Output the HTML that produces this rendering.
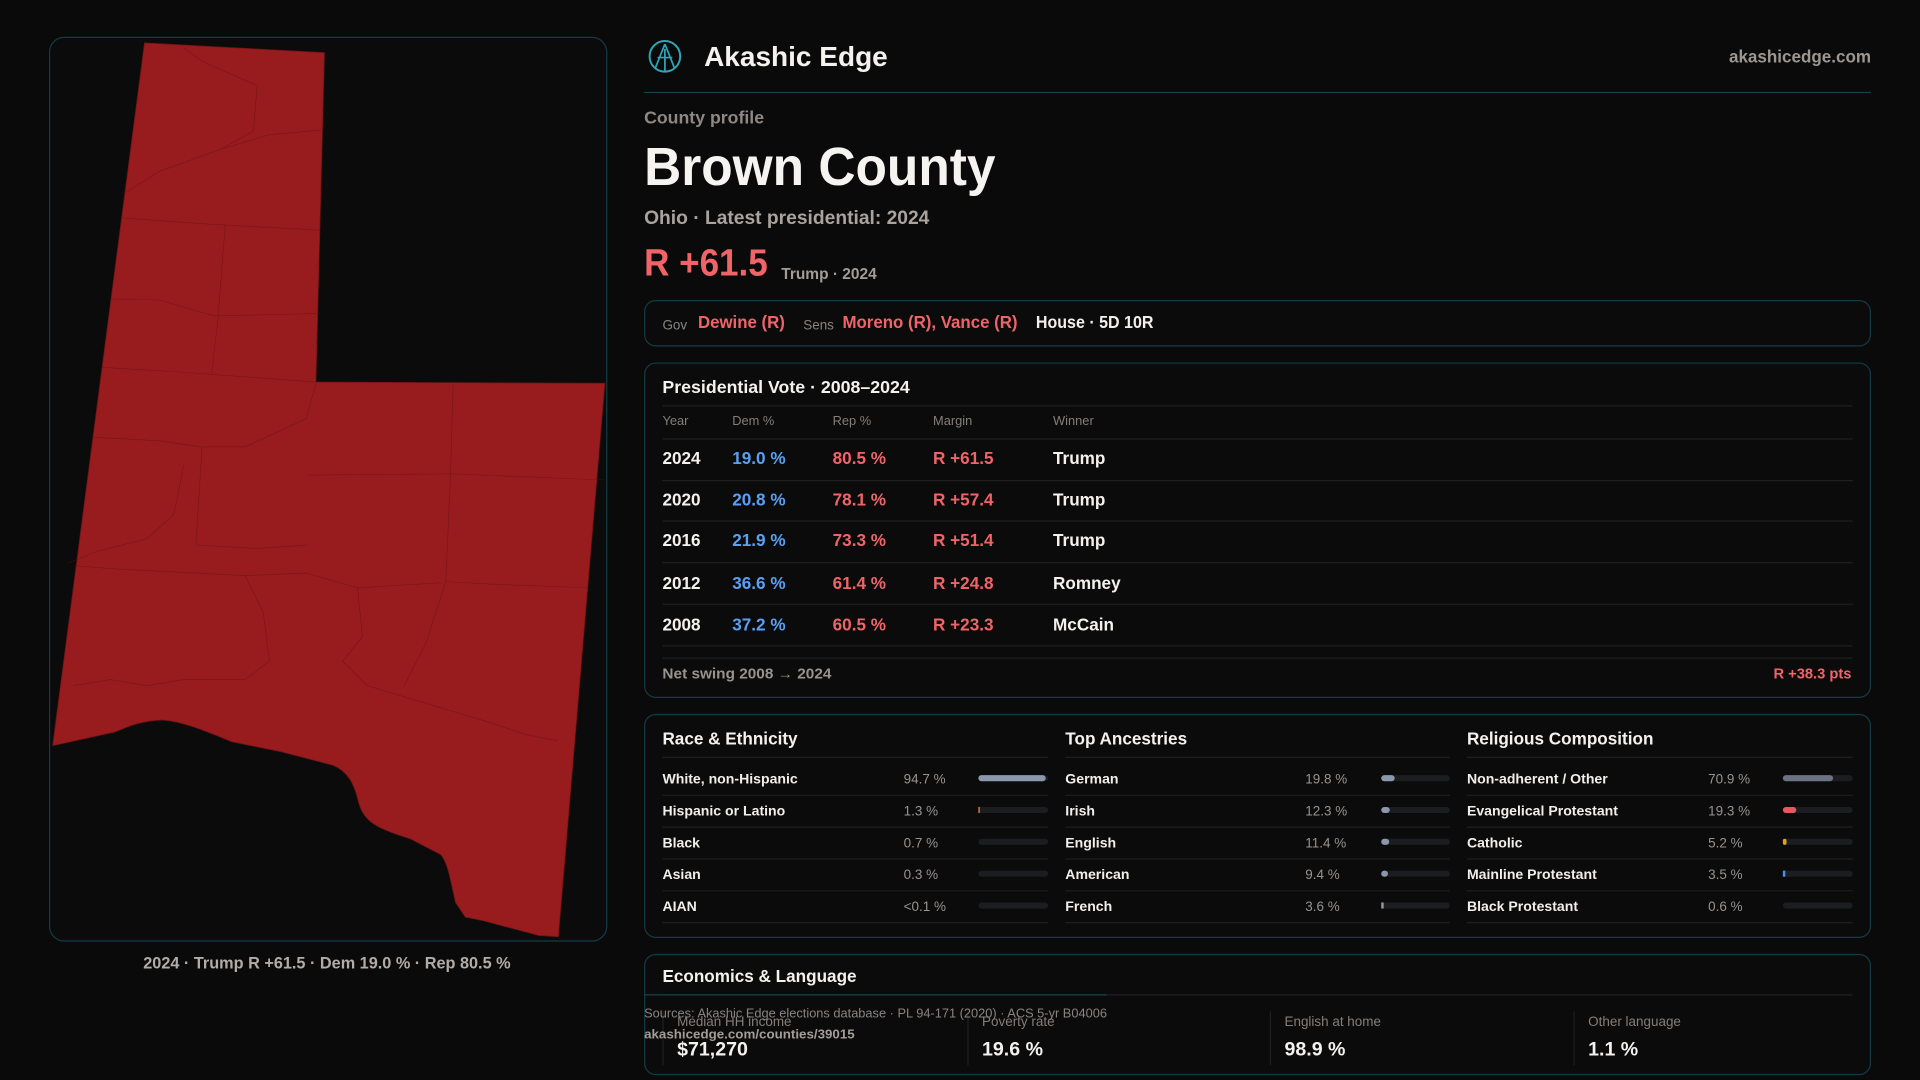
<!DOCTYPE html>
<html><head><meta charset="utf-8"><style>
html,body{margin:0;padding:0;background:#0a0a0b;}
svg{display:block;}
text{font-family:"Liberation Sans",sans-serif;}
</style></head><body>
<svg width="1920" height="1080" viewBox="0 0 1568 882" xmlns="http://www.w3.org/2000/svg">
<rect x="0" y="0" width="1568" height="882" fill="#0a0a0b"/>
<rect x="40.5" y="30.5" width="455" height="738" rx="12" fill="#0b0b0c" stroke="#143a44" stroke-width="1"/>
<path fill="#981b1e" stroke="#6e1416" stroke-width="0.6" d="M118,35 L265,43 L258,312 L494,313 L456,765 L440,764 L395,752 L380,749 L372,737 C368,720 366,705 360,698 L335,685 C305,676 296,670 292,652 C289,640 284,630 272,625 L230,614 L190,606 C170,598 150,589 132,588 C110,589 100,596 93,598 L43,609 Z"/>
<g fill="none" stroke="#5e1214" stroke-width="0.5" opacity="0.55">
<polyline points="103,157 130,140 180,122 207,107 210,70 165,50 150,39"/>
<polyline points="180,122 220,110 264,106"/>
<polyline points="100,178 170,183 261,188"/>
<polyline points="184,183 178,260 173,305"/>
<polyline points="90,244 130,245 175,258 261,256"/>
<polyline points="83,300 150,304 258,312"/>
<polyline points="75,357 130,360 165,365 200,365 250,342 258,313"/>
<polyline points="165,365 160,445 210,448 252,445"/>
<polyline points="252,388 370,387 494,392"/>
<polyline points="370,313 368,387 364,475 400,477 480,480"/>
<polyline points="60,462 100,465 200,470 250,468 292,480 360,476"/>
<polyline points="292,480 296,520 280,540 300,560 400,590 430,600 456,605"/>
<polyline points="364,475 348,525 330,560"/>
<polyline points="150,380 142,420 120,440 80,450 55,460"/>
<polyline points="200,470 215,500 220,540 200,555 150,555 120,560 90,555 60,560"/>
</g>
<text x="267" y="791" fill="#b3aca6" font-size="13.5" font-weight="bold" text-anchor="middle" textLength="300" lengthAdjust="spacingAndGlyphs">2024 · Trump R +61.5 · Dem 19.0 % · Rep 80.5 %</text>

<circle cx="543" cy="46" r="12.5" fill="none" stroke="#2fa6b8" stroke-width="1.6"/>
<path d="M543 36 L535 56 M543 36 L551 56 M537 47 L549 47 M543 40 L543 58" stroke="#2fa6b8" stroke-width="1.4" fill="none"/>
<text x="575" y="54" fill="#f4f2ef" font-size="23" font-weight="bold" textLength="150" lengthAdjust="spacingAndGlyphs">Akashic Edge</text>
<text x="1528" y="51" fill="#9e9690" font-size="14" font-weight="bold" text-anchor="end" textLength="116" lengthAdjust="spacingAndGlyphs">akashicedge.com</text>
<line x1="526" y1="75.5" x2="1528" y2="75.5" stroke="#17424d" stroke-width="1"/>
<text x="526" y="101" fill="#8f8882" font-size="14" font-weight="bold" textLength="98" lengthAdjust="spacingAndGlyphs">County profile</text>
<text x="526" y="151" fill="#f6f4f1" font-size="44" font-weight="bold" textLength="287" lengthAdjust="spacingAndGlyphs">Brown County</text>
<text x="526" y="183" fill="#aaa39d" font-size="16" font-weight="bold" textLength="233" lengthAdjust="spacingAndGlyphs">Ohio · Latest presidential: 2024</text>
<text x="526" y="225" fill="#f06468" font-size="31" font-weight="bold" textLength="101" lengthAdjust="spacingAndGlyphs">R +61.5</text>
<text x="638" y="228" fill="#a49d97" font-size="12.5" font-weight="bold" textLength="78" lengthAdjust="spacingAndGlyphs">Trump · 2024</text>

<rect x="526.5" y="245.5" width="1001" height="37" rx="9" fill="#0b0b0c" stroke="#143a44"/>
<text x="541" y="269" fill="#8a847f" font-size="11">Gov</text>
<text x="570" y="268" fill="#f06468" font-size="14" font-weight="bold" textLength="71" lengthAdjust="spacingAndGlyphs">Dewine (R)</text>
<text x="656" y="269" fill="#8a847f" font-size="11">Sens</text>
<text x="688" y="268" fill="#f06468" font-size="14" font-weight="bold" textLength="143" lengthAdjust="spacingAndGlyphs">Moreno (R), Vance (R)</text>
<text x="846" y="268" fill="#f1efec" font-size="14" font-weight="bold" textLength="96" lengthAdjust="spacingAndGlyphs">House · 5D 10R</text>

<rect x="526.5" y="296.5" width="1001" height="273" rx="9" fill="#0b0b0c" stroke="#143a44"/>
<text x="541" y="321" fill="#f4f2ef" font-size="14" font-weight="bold" textLength="202" lengthAdjust="spacingAndGlyphs">Presidential Vote · 2008–2024</text>
<line x1="541" y1="331.5" x2="1513" y2="331.5" stroke="#1d1f21"/>
<g fill="#857e79" font-size="10.5">
<text x="541" y="347">Year</text><text x="598" y="347">Dem %</text><text x="680" y="347">Rep %</text><text x="762" y="347">Margin</text><text x="860" y="347">Winner</text>
</g>
<g stroke="#1d1f21"><line x1="541" y1="358.5" x2="1513" y2="358.5"/><line x1="541" y1="392.5" x2="1513" y2="392.5"/><line x1="541" y1="425.5" x2="1513" y2="425.5"/><line x1="541" y1="459.5" x2="1513" y2="459.5"/><line x1="541" y1="493.5" x2="1513" y2="493.5"/><line x1="541" y1="527.5" x2="1513" y2="527.5"/><line x1="541" y1="537.5" x2="1513" y2="537.5"/></g>
<g font-size="14" font-weight="bold">
<text x="541" y="379" fill="#f4f2ef">2024</text><text x="598" y="379" fill="#5aa0f2">19.0 %</text><text x="680" y="379" fill="#f06468">80.5 %</text><text x="762" y="379" fill="#f06468">R +61.5</text><text x="860" y="379" fill="#f4f2ef">Trump</text>
<text x="541" y="413" fill="#f4f2ef">2020</text><text x="598" y="413" fill="#5aa0f2">20.8 %</text><text x="680" y="413" fill="#f06468">78.1 %</text><text x="762" y="413" fill="#f06468">R +57.4</text><text x="860" y="413" fill="#f4f2ef">Trump</text>
<text x="541" y="446" fill="#f4f2ef">2016</text><text x="598" y="446" fill="#5aa0f2">21.9 %</text><text x="680" y="446" fill="#f06468">73.3 %</text><text x="762" y="446" fill="#f06468">R +51.4</text><text x="860" y="446" fill="#f4f2ef">Trump</text>
<text x="541" y="481" fill="#f4f2ef">2012</text><text x="598" y="481" fill="#5aa0f2">36.6 %</text><text x="680" y="481" fill="#f06468">61.4 %</text><text x="762" y="481" fill="#f06468">R +24.8</text><text x="860" y="481" fill="#f4f2ef">Romney</text>
<text x="541" y="515" fill="#f4f2ef">2008</text><text x="598" y="515" fill="#5aa0f2">37.2 %</text><text x="680" y="515" fill="#f06468">60.5 %</text><text x="762" y="515" fill="#f06468">R +23.3</text><text x="860" y="515" fill="#f4f2ef">McCain</text>
</g>
<text x="541" y="554" fill="#9a938d" font-size="12" font-weight="bold" textLength="138" lengthAdjust="spacingAndGlyphs">Net swing 2008 → 2024</text>
<text x="1512" y="554" fill="#f06468" font-size="12" font-weight="bold" text-anchor="end">R +38.3 pts</text>

<rect x="526.5" y="583.5" width="1001" height="182" rx="9" fill="#0b0b0c" stroke="#143a44"/>
<g font-size="14" font-weight="bold" fill="#f4f2ef">
<text x="541" y="608">Race &amp; Ethnicity</text><text x="870" y="608">Top Ancestries</text><text x="1198" y="608">Religious Composition</text>
</g>
<g stroke="#1d1f21">
<line x1="541" y1="618.5" x2="856" y2="618.5"/><line x1="870" y1="618.5" x2="1184" y2="618.5"/><line x1="1198" y1="618.5" x2="1513" y2="618.5"/>
<line x1="541" y1="649.5" x2="856" y2="649.5"/><line x1="870" y1="649.5" x2="1184" y2="649.5"/><line x1="1198" y1="649.5" x2="1513" y2="649.5"/>
<line x1="541" y1="675.5" x2="856" y2="675.5"/><line x1="870" y1="675.5" x2="1184" y2="675.5"/><line x1="1198" y1="675.5" x2="1513" y2="675.5"/>
<line x1="541" y1="701.5" x2="856" y2="701.5"/><line x1="870" y1="701.5" x2="1184" y2="701.5"/><line x1="1198" y1="701.5" x2="1513" y2="701.5"/>
<line x1="541" y1="727.5" x2="856" y2="727.5"/><line x1="870" y1="727.5" x2="1184" y2="727.5"/><line x1="1198" y1="727.5" x2="1513" y2="727.5"/>
<line x1="541" y1="753.5" x2="856" y2="753.5"/><line x1="870" y1="753.5" x2="1184" y2="753.5"/><line x1="1198" y1="753.5" x2="1513" y2="753.5"/>
</g>
<g fill="#1c1d20">
<rect x="799" y="633" width="57" height="5" rx="2.5"/><rect x="799" y="659" width="57" height="5" rx="2.5"/><rect x="799" y="685" width="57" height="5" rx="2.5"/><rect x="799" y="711" width="57" height="5" rx="2.5"/><rect x="799" y="737" width="57" height="5" rx="2.5"/>
<rect x="1128" y="633" width="56" height="5" rx="2.5"/><rect x="1128" y="659" width="56" height="5" rx="2.5"/><rect x="1128" y="685" width="56" height="5" rx="2.5"/><rect x="1128" y="711" width="56" height="5" rx="2.5"/><rect x="1128" y="737" width="56" height="5" rx="2.5"/>
<rect x="1456" y="633" width="57" height="5" rx="2.5"/><rect x="1456" y="659" width="57" height="5" rx="2.5"/><rect x="1456" y="685" width="57" height="5" rx="2.5"/><rect x="1456" y="711" width="57" height="5" rx="2.5"/><rect x="1456" y="737" width="57" height="5" rx="2.5"/>
</g>
<rect x="799" y="633" width="55" height="5" rx="2.5" fill="#8b97aa"/>
<rect x="799" y="659" width="1.2" height="5" fill="#d97a3a"/>
<rect x="1128" y="633" width="11" height="5" rx="2.5" fill="#8b97aa"/>
<rect x="1128" y="659" width="7" height="5" rx="2.5" fill="#8b97aa"/>
<rect x="1128" y="685" width="6.5" height="5" rx="2.5" fill="#8b97aa"/>
<rect x="1128" y="711" width="5.5" height="5" rx="2.5" fill="#8b97aa"/>
<rect x="1128" y="737" width="2" height="5" fill="#8b97aa"/>
<rect x="1456" y="633" width="41" height="5" rx="2.5" fill="#6b7280"/>
<rect x="1456" y="659" width="11" height="5" rx="2.5" fill="#e05a5e"/>
<rect x="1456" y="685" width="3" height="5" rx="1.5" fill="#e0a020"/>
<rect x="1456" y="711" width="2" height="5" fill="#4a8ef0"/>
<g font-size="11.5" font-weight="bold" fill="#f1efec">
<text x="541" y="640">White, non-Hispanic</text><text x="541" y="666">Hispanic or Latino</text><text x="541" y="692">Black</text><text x="541" y="718">Asian</text><text x="541" y="744">AIAN</text>
<text x="870" y="640">German</text><text x="870" y="666">Irish</text><text x="870" y="692">English</text><text x="870" y="718">American</text><text x="870" y="744">French</text>
<text x="1198" y="640">Non-adherent / Other</text><text x="1198" y="666">Evangelical Protestant</text><text x="1198" y="692">Catholic</text><text x="1198" y="718">Mainline Protestant</text><text x="1198" y="744">Black Protestant</text>
</g>
<g font-size="11" fill="#9a938d">
<text x="738" y="640">94.7 %</text><text x="738" y="666">1.3 %</text><text x="738" y="692">0.7 %</text><text x="738" y="718">0.3 %</text><text x="738" y="744">&lt;0.1 %</text>
<text x="1066" y="640">19.8 %</text><text x="1066" y="666">12.3 %</text><text x="1066" y="692">11.4 %</text><text x="1066" y="718">9.4 %</text><text x="1066" y="744">3.6 %</text>
<text x="1395" y="640">70.9 %</text><text x="1395" y="666">19.3 %</text><text x="1395" y="692">5.2 %</text><text x="1395" y="718">3.5 %</text><text x="1395" y="744">0.6 %</text>
</g>

<rect x="526.5" y="779.5" width="1001" height="98" rx="9" fill="#0b0b0c" stroke="#143a44"/>
<text x="541" y="802" fill="#f4f2ef" font-size="14" font-weight="bold">Economics &amp; Language</text>
<line x1="541" y1="812.5" x2="1513" y2="812.5" stroke="#1d1f21"/>
<line x1="526" y1="812.5" x2="904" y2="812.5" stroke="#17424d"/>
<g stroke="#1d1f21"><line x1="790.5" y1="826" x2="790.5" y2="870"/><line x1="1037.5" y1="826" x2="1037.5" y2="870"/><line x1="1285.5" y1="826" x2="1285.5" y2="870"/><line x1="541.5" y1="826" x2="541.5" y2="870"/></g>
<g font-size="11" fill="#857e79">
<text x="553" y="838">Median HH income</text><text x="802" y="838">Poverty rate</text><text x="1049" y="838">English at home</text><text x="1297" y="838">Other language</text>
</g>
<g font-size="16" font-weight="bold" fill="#f4f2ef">
<text x="553" y="862">$71,270</text><text x="802" y="862">19.6 %</text><text x="1049" y="862">98.9 %</text><text x="1297" y="862">1.1 %</text>
</g>
<text x="526" y="831" fill="#8a847f" font-size="10.5" textLength="378" lengthAdjust="spacingAndGlyphs">Sources: Akashic Edge elections database · PL 94-171 (2020) · ACS 5-yr B04006</text>
<text x="526" y="848" fill="#a49d97" font-size="10.5" font-weight="bold" textLength="172" lengthAdjust="spacingAndGlyphs">akashicedge.com/counties/39015</text>
</svg>
</body></html>
